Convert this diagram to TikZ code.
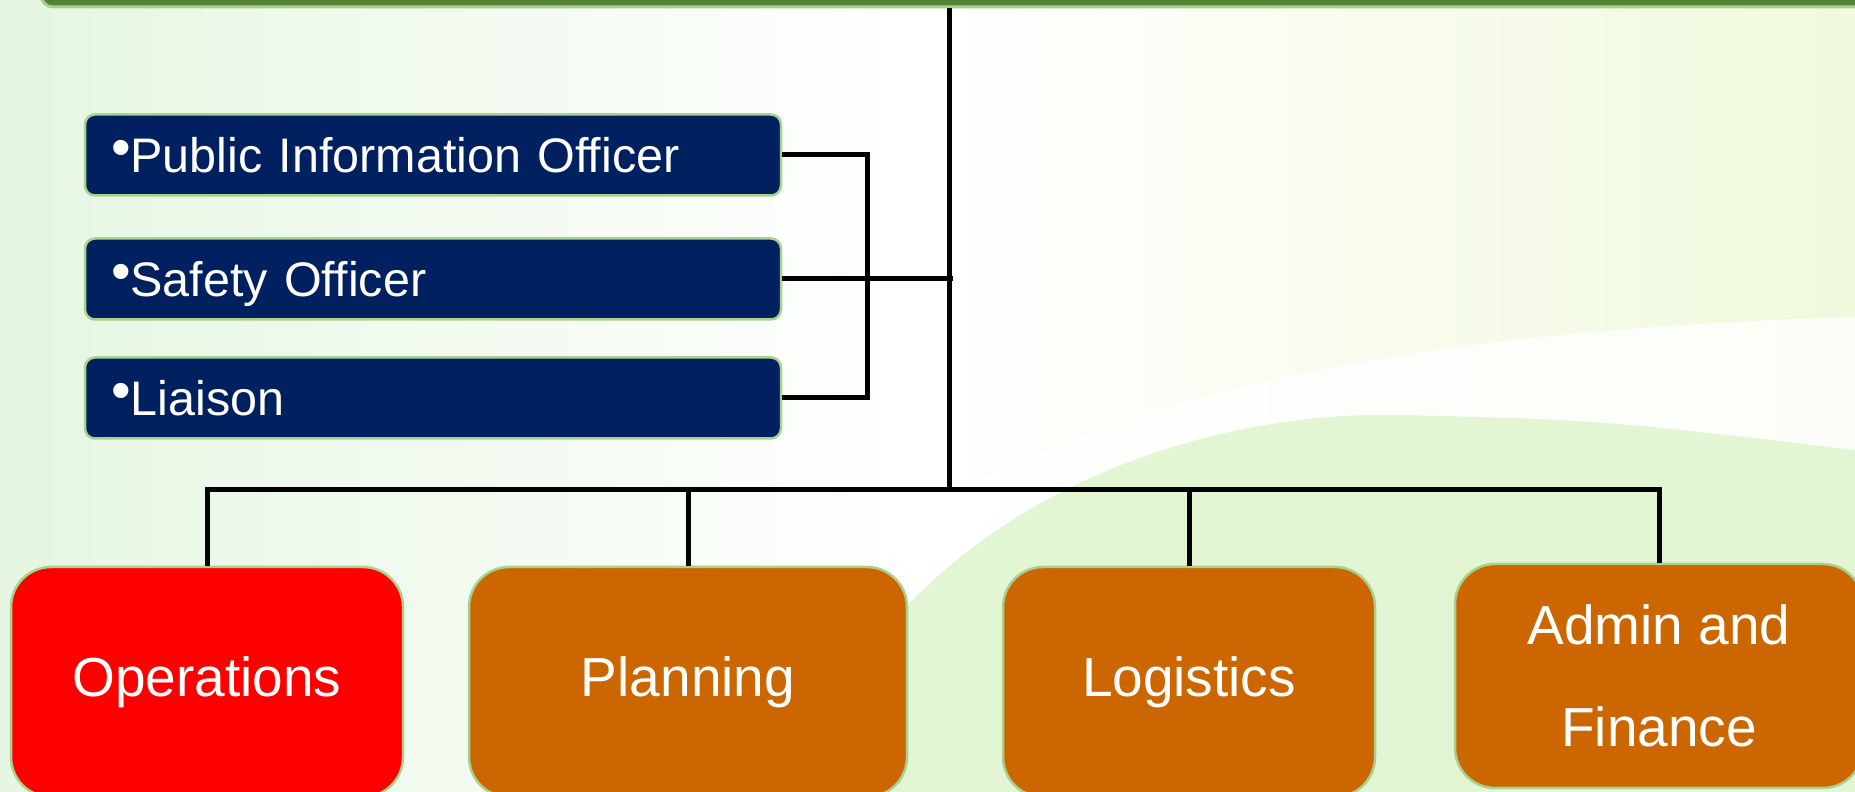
\documentclass[tikz,border=0pt]{standalone}
\usepackage{fontspec}
\setmainfont{Liberation Sans}
\usepackage{tikz}

\definecolor{navy}{HTML}{002060}
\definecolor{rust}{HTML}{CC6600}
\definecolor{edgegreen}{HTML}{A9D18E}
\definecolor{bargreen}{HTML}{548235}
\definecolor{bgleft}{HTML}{E6F6E2}
\definecolor{bgright}{HTML}{F0F9DC}
\definecolor{swoosh}{HTML}{E2F6D3}

\newcommand{\bul}{\raisebox{5.5pt}{\fontsize{56}{56}\selectfont •}}

\begin{document}
\begin{tikzpicture}[x=1pt, y=1pt, node distance=120pt,
    staff/.style={draw=edgegreen, line width=2.5pt, fill=navy, text=white, rounded corners=10pt,
        text width=644pt, inner xsep=26pt, inner ysep=0pt, minimum height=81pt, align=left,
        text height=35pt, text depth=0pt, font=\fontsize{48.5}{58}\selectfont},
    section/.style={draw=edgegreen, line width=2.5pt, fill=rust, text=white, rounded corners=40pt,
        minimum height=230pt, inner sep=0pt, align=center, font=\fontsize{55}{102}\selectfont},
    link/.style={line width=5pt}]
    \useasboundingbox (0,0) rectangle (1855,792);
    \clip (0,0) rectangle (1855,792);
    \shade[left color=bgleft, right color=bgright, middle color=white] (0,0) rectangle (1855,792);
    \fill[white, opacity=0.8] (680,0) .. controls (820,330) and (1200,455) .. (1855,475) -- (1855,0) -- cycle;
    \fill[swoosh] (790,0) .. controls (900,292) and (1200,382) .. (1400,377) .. controls (1600,372) .. (1855,342) -- (1855,0) -- cycle;

    \node[draw=edgegreen, line width=3pt, fill=bargreen, rounded corners=12pt, minimum width=1860pt, minimum height=70pt] (commander) at (971,820) {};

    \node[staff] (pio) at (433,637) {\bul Public Information Officer};
    \node[staff, below of=pio, node distance=124pt] (safety) {\bul Safety Officer};
    \node[staff, below of=safety, node distance=119pt] (liaison) {\bul Liaison};

    \node[section, fill=red, minimum width=392pt] (ops) at (207,110) {Operations};
    \node[section, minimum width=438pt, right of=ops, node distance=481pt] (plan) {Planning};
    \node[section, minimum width=372pt, right of=plan, node distance=501pt] (logi) {Logistics};
    \node[section, minimum width=408pt, minimum height=224pt, right of=logi, node distance=470pt, yshift=6pt] (admin) {Admin and\\Finance};

    \coordinate (bus) at (949,302);
    \coordinate (brk) at (867,0);

    \draw[link] (commander.south -| bus) -- (bus);
    \draw[link] (ops.north) -- (ops.north |- bus) -- (admin.north |- bus) -- (admin.north);
    \draw[link] (plan.north) -- (plan.north |- bus);
    \draw[link] (logi.north) -- (logi.north |- bus);
    \draw[link] (pio.east) -- (pio.east -| brk) -- (liaison.east -| brk) -- (liaison.east);
    \draw[link] (safety.east) -- ([xshift=4pt]safety.east -| bus);
\end{tikzpicture}
\end{document}
